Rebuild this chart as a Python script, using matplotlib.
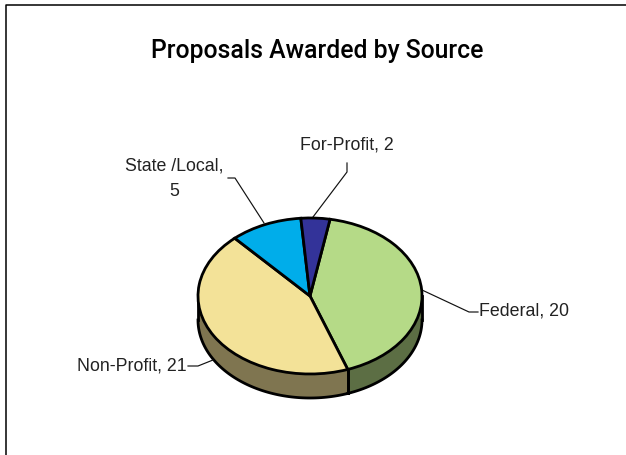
import numpy as np
import matplotlib
matplotlib.use("Agg")
import matplotlib.pyplot as plt

# -------------------------------
# Data
# -------------------------------
sources = ["Federal", "Non-Profit", "State /Local", "For-Profit"]
awards = [20, 21, 5, 2]
top_colors = ["#B5DA87", "#F3E298", "#00ADEA", "#333399"]
side_colors = ["#5C6E44", "#7F7550"]

W, H = 626, 455
CX, CY, RX, RY = 310, 296, 112, 78
DEPTH = 24 / RY
START = 79.7
EDGE = 2.0

plt.rcParams["font.family"] = ["Liberation Sans", "DejaVu Sans"]

fig = plt.figure(figsize=(W / 100, H / 100), dpi=100)
ax = fig.add_axes([0, 0, 1, 1])

# -------------------------------
# Side wall of the tilted pie
# -------------------------------
boundary = START - 360 * awards[0] / sum(awards)
side_spans = [(0, boundary), (boundary, -180)]
for (a0, a1), col in zip(side_spans, side_colors):
    t = np.radians(np.linspace(a0, a1, 80))
    xs = np.cos(t)
    ax.fill_between(xs, np.sin(t), np.sin(t) - DEPTH, color=col, lw=0, zorder=1)
    ax.plot(xs, np.sin(t) - DEPTH, color="black", lw=EDGE, zorder=2)
    ax.plot([xs[0], xs[0]], [np.sin(t[0]), np.sin(t[0]) - DEPTH], color="black", lw=EDGE, zorder=2)
    ax.plot([xs[-1], xs[-1]], [np.sin(t[-1]), np.sin(t[-1]) - DEPTH], color="black", lw=EDGE, zorder=2)

# -------------------------------
# Top of the pie
# -------------------------------
wedges, _ = ax.pie(awards, colors=top_colors, startangle=START, counterclock=False,
                   wedgeprops={"edgecolor": "black", "linewidth": EDGE, "zorder": 3})
ax.set_aspect("auto")
ax.set_xlim(-CX / RX, (W - CX) / RX)
ax.set_ylim((CY - H) / RY, CY / RY)
ax.axis("off")

# -------------------------------
# Helpers in pixel positions
# -------------------------------
def px(x, y):
    return (x - CX) / RX, (CY - y) / RY

def leader(points):
    xy = np.array([px(*p) for p in points])
    ax.plot(xy[:, 0], xy[:, 1], color="#111111", lw=0.85, zorder=2.5)

leader([(422, 290), (469, 312), (478, 312)])
leader([(188, 366), (198, 366), (213, 360)])
leader([(264, 223), (235, 178), (228, 178)])
leader([(313, 217), (347, 172), (347, 163)])

label_size = 12.8
text_color = "#222222"
x, y = px(479, 311)
ax.text(x, y, f"{sources[0]}, {awards[0]}", fontsize=label_size, color=text_color, va="center", ha="left")
x, y = px(77, 366)
ax.text(x, y, f"{sources[1]}, {awards[1]}", fontsize=label_size, color=text_color, va="center", ha="left")
x, y = px(174, 166)
ax.text(x, y, f"{sources[2]},", fontsize=label_size, color=text_color, va="center", ha="center")
x, y = px(174, 192)
ax.text(x, y, f"{awards[2]}", fontsize=label_size, color=text_color, va="center", ha="center")
x, y = px(347, 145)
ax.text(x, y, f"{sources[3]}, {awards[3]}", fontsize=label_size, color=text_color, va="center", ha="center")

x, y = px(317, 51)
ax.text(x, y, "Proposals Awarded by Source", fontsize=17.8, va="center", ha="center",
        family=["Roboto", "DejaVu Sans"], weight="medium")

# -------------------------------
# Outer frame (left and top edges only)
# -------------------------------
x0, y0 = px(6, 460)
x1, y1 = px(6, 4.5)
x2, y2 = px(630, 4.5)
ax.plot([x0, x1, x2], [y0, y1, y2], color="black", lw=1.1, zorder=5)

fig.savefig("out.png", dpi=100)
